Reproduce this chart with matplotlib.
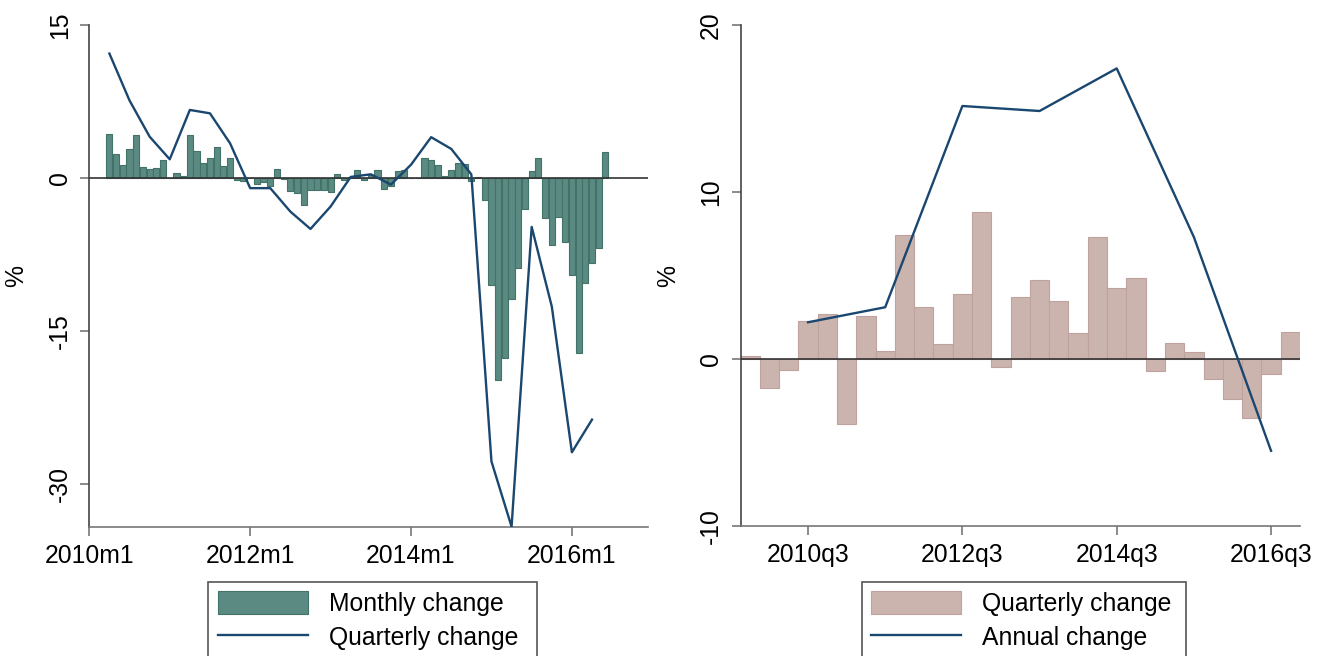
import matplotlib
matplotlib.use("Agg")
import matplotlib.pyplot as plt
from matplotlib.patches import Rectangle
import numpy as np

plt.rcParams['font.family'] = ['Liberation Sans', 'DejaVu Sans']

# ---------------- data ----------------
# Left panel: monthly index (0 = 2010m1)
monthly_start = 3  # 2010m4
monthly_change = [
    4.28, 2.39, 1.24, 2.84, 4.18, 1.08, 0.88, 0.98, 1.73, 0.0,
    0.49, 0.20, 4.18, 2.65, 1.50, 2.00, 3.00, 1.18, 2.00, -0.23,
    -0.30, -0.05, -0.56, -0.36, -0.75, 0.85, -0.10, -1.30, -1.50, -2.70,
    -1.18, -1.18, -1.18, -1.40, 0.36, -0.20, 0.13, 0.75, -0.20, 0.30,
    0.82, -1.08, -0.78, 0.72, 0.82, 0.0, 0.0, 1.96, 1.80, 1.30,
    0.16, 0.82, 1.47, 1.40, -0.30, 0.10, -2.12, -10.5, -19.8, -17.7,
    -11.9, -8.8, -3.07, 0.65, 1.96, -3.9, -6.6, -3.8, -6.3, -9.5,
    -17.2, -10.3, -8.3, -6.9, 2.55,
]
quarterly_start = 3  # 2010m4, every 3 months
quarterly_change_m = [
    12.2, 7.6, 4.05, 1.83, 6.67, 6.34, 3.4, -1.0, -1.0, -3.3,
    -5.0, -2.8, 0.1, 0.36, -0.65, 1.3, 4.0, 2.85, 0.35, -27.8,
    -34.2, -4.8, -12.6, -26.9, -23.7,
]
left_xticks = [0, 24, 48, 72]
left_xticklabels = ["2010m1", "2012m1", "2014m1", "2016m1"]
left_yticks = [15, 0, -15, -30]

# Right panel: quarter index (0 = 2009q4)
quarterly_change_q = [
    0.18, -1.74, -0.64, 2.30, 2.71, -3.89, 2.55, 0.46, 7.44, 3.11,
    0.92, 3.87, 8.82, -0.48, 3.69, 4.75, 3.47, 1.58, 7.33, 4.23,
    4.85, -0.72, 0.94, 0.42, -1.18, -2.40, -3.53, -0.88, 1.62,
]
annual_start = 3  # 2010q3, every 4 quarters
annual_change = [2.2, 3.1, 15.15, 14.85, 17.4, 7.3, -5.5]
right_xticks = [3, 11, 19, 27]
right_xticklabels = ["2010q3", "2012q3", "2014q3", "2016q3"]
right_yticks = [20, 10, 0, -10]

# ---------------- styling ----------------
W, H = 1322, 656
fig = plt.figure(figsize=(W / 100, H / 100), dpi=100)
FS = 17.8
line_col = '#1a476f'
teal = '#5a8a81'
teal_edge = '#417369'
rose = '#cbb3ae'
rose_edge = '#bfa29d'


def style_axes(ax):
    for s in ['top', 'right']:
        ax.spines[s].set_visible(False)
    ax.spines['left'].set_color('#444444')
    ax.spines['bottom'].set_color('#777777')
    ax.spines['left'].set_linewidth(1.2)
    ax.spines['bottom'].set_linewidth(1.2)
    ax.tick_params(axis='both', length=6.5, width=1.2, color='#777777',
                   labelsize=FS, pad=6)
    for lab in ax.get_yticklabels():
        lab.set_rotation(90)
        lab.set_va('center')


# ---------------- left panel ----------------
axL = fig.add_axes([89.3 / W, 1 - 526.7 / H, 559 / W, 501.7 / H])
mx = np.arange(len(monthly_change)) + monthly_start
axL.bar(mx, monthly_change, width=0.92, color=teal, edgecolor=teal_edge,
        linewidth=0.8, label='Monthly change', zorder=2)
axL.axhline(0, color='#333333', lw=1.2, zorder=3)
qx = np.arange(len(quarterly_change_m)) * 3 + quarterly_start
axL.plot(qx, quarterly_change_m, color=line_col, lw=1.7,
         label='Quarterly change', zorder=4)
axL.set_xlim(0, 83.4)
axL.set_ylim(-34.2, 15)
axL.set_xticks(left_xticks)
axL.set_xticklabels(left_xticklabels)
axL.set_yticks(left_yticks)
axL.set_yticklabels([str(v) for v in left_yticks])
style_axes(axL)
axL.set_ylabel('%', fontsize=FS, labelpad=14)

# ---------------- right panel ----------------
axR = fig.add_axes([740.5 / W, 1 - 526 / H, 559.5 / W, 501 / H])
qqx = np.arange(len(quarterly_change_q))
axR.bar(qqx, quarterly_change_q, width=1.0, color=rose, edgecolor=rose_edge,
        linewidth=0.8, label='Quarterly change', zorder=2)
axR.axhline(0, color='#333333', lw=1.2, zorder=3)
ax_x = np.arange(len(annual_change)) * 4 + annual_start
axR.plot(ax_x, annual_change, color=line_col, lw=1.7,
         label='Annual change', zorder=4)
axR.set_xlim(-0.5, 28.5)
axR.set_ylim(-10, 20)
axR.set_xticks(right_xticks)
axR.set_xticklabels(right_xticklabels)
axR.set_yticks(right_yticks)
axR.set_yticklabels([str(v) for v in right_yticks])
style_axes(axR)
axR.set_ylabel('%', fontsize=FS, labelpad=14)

# ---------------- legends ----------------
# (frame left, frame right, handle left) in pixels
for ax, (fx0, fx1, hx0) in [(axL, (208, 537, 218)), (axR, (862, 1186, 871))]:
    h, l = ax.get_legend_handles_labels()
    # bars first, then line
    h, l = h[::-1], l[::-1]
    ax.legend(h, l, loc='upper left',
              bbox_to_anchor=(hx0 / W, 1 - 591 / H),
              bbox_transform=fig.transFigure,
              fontsize=FS, frameon=False,
              handlelength=3.65, handleheight=1.03,
              handletextpad=0.85, borderpad=0, labelspacing=0.38,
              borderaxespad=0)
    fig.patches.append(Rectangle((fx0 / W, -0.05), (fx1 - fx0) / W,
                                 (1 - 582 / H) + 0.05,
                                 transform=fig.transFigure, fill=False,
                                 edgecolor='#555555', linewidth=1.2))

fig.savefig('out.png', dpi=100)
